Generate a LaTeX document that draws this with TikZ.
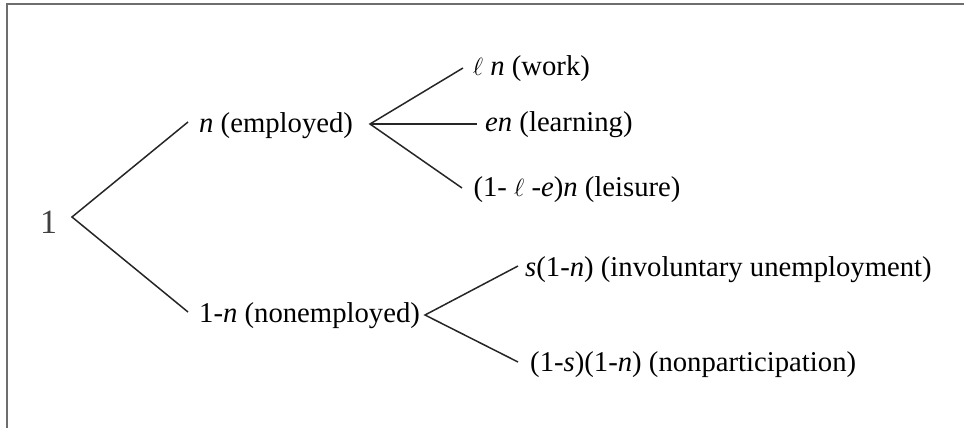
\documentclass[tikz,border=0pt]{standalone}
\usepackage{fontspec}
\setmainfont{Liberation Serif}
\definecolor{framegray}{RGB}{110,110,110}
\begin{document}
\begin{tikzpicture}[x=1pt,y=-1pt,
  lbl/.style={anchor=base west,inner sep=0pt,font=\fontsize{28.7}{34}\selectfont},
  br/.style={line width=1.5pt,color=black!85}]
\useasboundingbox (0,0) rectangle (964,428);
\draw[line width=2pt,framegray] (6.8,428) -- (6.8,4) -- (964,4);

% root
\node[anchor=base west,inner sep=0pt,font=\fontsize{34}{40}\selectfont,text=black!75] (root) at (40,233) {1};
\coordinate (r) at (72,217);

% level 1
\node[lbl] (emp) at (199,132.5) {\textit{n} (employed)};
\node[lbl] (non) at (199,322) {1-\textit{n} (nonemployed)};
\coordinate (empin) at (188,122);
\coordinate (nonin) at (188,312);
\coordinate (empout) at (370,124);
\coordinate (nonout) at (425,315);

% level 2, employed
\node[lbl] (work) at (472.7,75) {$\ell$ \textit{n} (work)};
\node[lbl] (learn) at (485,131.7) {\textit{en} (learning)};
\node[lbl] (leis) at (473.3,196.7) {(1- $\ell$ -\textit{e})\textit{n} (leisure)};
\coordinate (workin) at (463,68);
\coordinate (learnin) at (477,124);
\coordinate (leisin) at (462,188);

% level 2, nonemployed
\node[lbl] (invol) at (525,276) {\textit{s}(1-\textit{n}) (involuntary unemployment)};
\node[lbl] (npart) at (530,371) {(1-\textit{s})(1-\textit{n}) (nonparticipation)};
\coordinate (involin) at (518,266);
\coordinate (npartin) at (518,362);

% connectors
\draw[br] (empin) -- (r) -- (nonin);
\draw[br] (workin) -- (empout) -- (leisin);
\draw[br] (empout) -- (learnin);
\draw[br] (involin) -- (nonout) -- (npartin);
\end{tikzpicture}
\end{document}
